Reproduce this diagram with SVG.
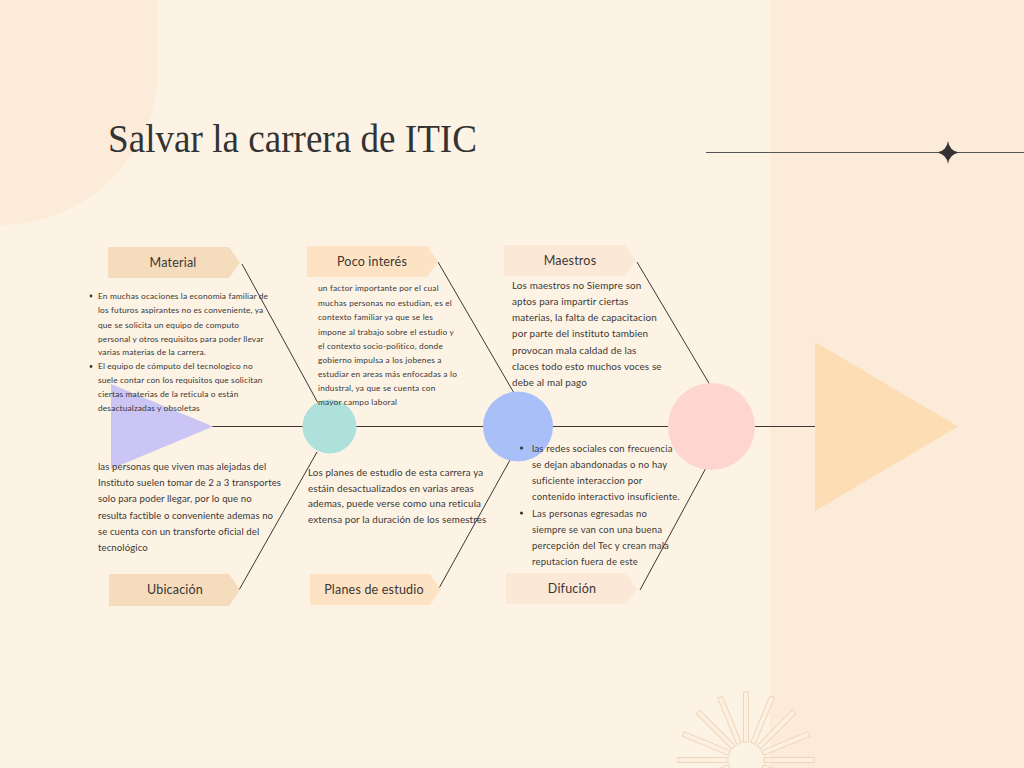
<svg xmlns="http://www.w3.org/2000/svg" width="1024" height="768" viewBox="0 0 1024 768">
<defs>
<style>
.t{font-family:Lato,"Open Sans","Liberation Sans",sans-serif;fill:#3a3734}
.lbl{font-family:Lato,"Open Sans","Liberation Sans",sans-serif;fill:#3a3734;font-size:12.5px;text-anchor:middle;letter-spacing:0.2px}
.br{stroke:#3a3734;stroke-width:1;fill:none}
.ray{fill:#FDF0E0;stroke:#EDD6BB;stroke-width:1}
.c1{fill:#F5DCBD}.c2{fill:#FDE3C3}.c3{fill:#FCE8D6}
</style>
</defs>
<rect width="1024" height="768" fill="#FDF3E5"/>
<rect x="770" y="0" width="254" height="768" fill="#FCEBD9"/>
<path d="M0,0 H158 V68 A158,157 0 0 1 0,225 Z" fill="#FCEBD9"/>
<g id="sunburst">
<rect class="ray" x="-2.5" y="-68" width="5" height="50" transform="translate(746,760) rotate(-90)"/>
<rect class="ray" x="-2.5" y="-68" width="5" height="50" transform="translate(746,760) rotate(-67.5)"/>
<rect class="ray" x="-2.5" y="-68" width="5" height="50" transform="translate(746,760) rotate(-45)"/>
<rect class="ray" x="-2.5" y="-68" width="5" height="50" transform="translate(746,760) rotate(-22.5)"/>
<rect class="ray" x="-2.5" y="-68" width="5" height="50" transform="translate(746,760) rotate(0)"/>
<rect class="ray" x="-2.5" y="-68" width="5" height="50" transform="translate(746,760) rotate(22.5)"/>
<rect class="ray" x="-2.5" y="-68" width="5" height="50" transform="translate(746,760) rotate(45)"/>
<rect class="ray" x="-2.5" y="-68" width="5" height="50" transform="translate(746,760) rotate(67.5)"/>
<rect class="ray" x="-2.5" y="-68" width="5" height="50" transform="translate(746,760) rotate(90)"/>
<rect class="ray" x="-2.5" y="-68" width="5" height="50" transform="translate(746,760) rotate(112.5)"/>
<rect class="ray" x="-2.5" y="-68" width="5" height="50" transform="translate(746,760) rotate(-112.5)"/>
</g>
<text id="title" x="108" y="152" font-family="'Liberation Serif',serif" font-size="40" fill="#333" textLength="369" lengthAdjust="spacingAndGlyphs">Salvar la carrera de ITIC</text>
<g id="deco-line">
<line x1="706" y1="152.5" x2="1024" y2="152.5" stroke="#555" stroke-width="1.2"/>
<path d="M948,141 Q949.3,150.7 959,152.5 Q949.3,154.3 948,164 Q946.7,154.3 937,152.5 Q946.7,150.7 948,141 Z" fill="#333"/>
</g>
<g id="connectors">
<line class="br" x1="212" y1="426.5" x2="815" y2="426.5" stroke-width="1.3"/>
<line class="br" x1="242" y1="264" x2="318" y2="403"/>
<line class="br" x1="438" y1="262" x2="514" y2="393"/>
<line class="br" x1="637" y1="262" x2="710" y2="385"/>
<line class="br" x1="239" y1="590" x2="317" y2="452"/>
<line class="br" x1="438" y1="590" x2="510" y2="460"/>
<line class="br" x1="640" y1="590" x2="707" y2="466"/>
</g>
<g id="tail"><polygon points="111,384 213,426.5 111,469" fill="#CBC5F6"/></g>
<g id="node-teal"><circle cx="329.5" cy="426.5" r="27" fill="#AEE1DC"/></g>
<g id="node-blue"><circle cx="518" cy="426.5" r="35" fill="#A8BFF7"/></g>
<g id="node-pink"><circle cx="711.5" cy="426.5" r="43.5" fill="#FED6CF"/></g>
<g id="head"><polygon points="815,342 958,426.5 815,511" fill="#FDDDB3"/></g>
<g id="label-material">
<polygon class="c1" points="108,247 229,247 240,262.5 229,278 108,278"/>
<text class="lbl" x="173" y="267">Material</text>
</g>
<g id="label-poco">
<polygon class="c2" points="307,246 427,246 438,261.5 427,277 307,277"/>
<text class="lbl" x="372" y="265.5">Poco interés</text>
</g>
<g id="label-maestros">
<polygon class="c3" points="504,245 625,245 636,260.5 625,276 504,276"/>
<text class="lbl" x="570" y="265">Maestros</text>
</g>
<g id="label-ubicacion">
<polygon class="c1" points="109,574 229,574 240,590 229,606 109,606"/>
<text class="lbl" x="175" y="594">Ubicación</text>
</g>
<g id="label-planes">
<polygon class="c2" points="310,574 430,574 441,589.5 430,605 310,605"/>
<text class="lbl" x="374" y="594">Planes de estudio</text>
</g>
<g id="label-difucion">
<polygon class="c3" points="506,573 626,573 637,588.5 626,604 506,604"/>
<text class="lbl" x="572" y="593">Difución</text>
</g>
<g id="text-material">
<circle cx="91" cy="296" r="1.4" fill="#3a3734"/>
<circle cx="91" cy="366.5" r="1.4" fill="#3a3734"/>
<text class="t" font-size="8.4" letter-spacing="0.13">
<tspan x="98" y="299">En muchas ocaciones la economia familiar de</tspan>
<tspan x="98" y="313">los futuros aspirantes no es conveniente, ya</tspan>
<tspan x="98" y="327.5">que se solicita un equipo de computo</tspan>
<tspan x="98" y="341.5">personal y otros requisitos para poder llevar</tspan>
<tspan x="98" y="355">varias materias de la carrera.</tspan>
<tspan x="98" y="369">El equipo de cómputo del tecnologico no</tspan>
<tspan x="98" y="383">suele contar con los requisitos que solicitan</tspan>
<tspan x="98" y="397">ciertas materias de la reticula o están</tspan>
<tspan x="98" y="411">desactualzadas y obsoletas</tspan>
</text>
</g>
<g id="text-poco">
<text class="t" font-size="8.3" letter-spacing="0.19">
<tspan x="318" y="291">un factor importante por el cual</tspan>
<tspan x="318" y="305.5">muchas personas no estudian, es el</tspan>
<tspan x="318" y="320">contexto familiar ya que se les</tspan>
<tspan x="318" y="334.5">impone al trabajo sobre el estudio y</tspan>
<tspan x="318" y="349">el contexto socio-politico, donde</tspan>
<tspan x="318" y="363">gobierno impulsa a los jobenes a</tspan>
<tspan x="318" y="377">estudiar en areas más enfocadas a lo</tspan>
<tspan x="318" y="391">industral, ya que se cuenta con</tspan>
<tspan x="318" y="404.5">mayor campo laboral</tspan>
</text>
</g>
<g id="text-maestros">
<text class="t" font-size="9.9" letter-spacing="0.14">
<tspan x="512" y="288.5">Los maestros no Siempre son</tspan>
<tspan x="512" y="305">aptos para impartir ciertas</tspan>
<tspan x="512" y="321">materias, la falta de capacitacion</tspan>
<tspan x="512" y="337">por parte del instituto tambien</tspan>
<tspan x="512" y="353.5">provocan mala caldad de las</tspan>
<tspan x="512" y="370">claces todo esto muchos voces se</tspan>
<tspan x="512" y="386">debe al mal pago</tspan>
</text>
</g>
<g id="text-ubicacion">
<text class="t" font-size="9.6" letter-spacing="0.09">
<tspan x="98" y="470">las personas que viven mas alejadas del</tspan>
<tspan x="98" y="486">Instituto suelen tomar de 2 a 3 transportes</tspan>
<tspan x="98" y="502">solo para poder llegar, por lo que no</tspan>
<tspan x="98" y="518.5">resulta factible o conveniente ademas no</tspan>
<tspan x="98" y="534.5">se cuenta con un transforte oficial del</tspan>
<tspan x="98" y="551">tecnológico</tspan>
</text>
</g>
<g id="text-planes">
<text class="t" font-size="9.8" letter-spacing="0.13">
<tspan x="308" y="476">Los planes de estudio de esta carrera ya</tspan>
<tspan x="308" y="491.5">estáin desactualizados en varias areas</tspan>
<tspan x="308" y="506.5">ademas, puede verse como una reticula</tspan>
<tspan x="308" y="522.5">extensa por la duración de los semestres</tspan>
</text>
</g>
<g id="text-difucion">
<circle cx="521.5" cy="448" r="1.6" fill="#3a3734"/>
<circle cx="521.5" cy="513" r="1.6" fill="#3a3734"/>
<text class="t" font-size="9.5" letter-spacing="0.19">
<tspan x="532" y="451.5">las redes sociales con frecuencia</tspan>
<tspan x="532" y="467.5">se dejan abandonadas o no hay</tspan>
<tspan x="532" y="483.5">suficiente interaccion por</tspan>
<tspan x="532" y="500">contenido interactivo insuficiente.</tspan>
<tspan x="532" y="516.5">Las personas egresadas no</tspan>
<tspan x="532" y="532.5">siempre se van con una buena</tspan>
<tspan x="532" y="548.5">percepción del Tec y crean mala</tspan>
<tspan x="532" y="564.5">reputacion fuera de este</tspan>
</text>
</g>
</svg>
